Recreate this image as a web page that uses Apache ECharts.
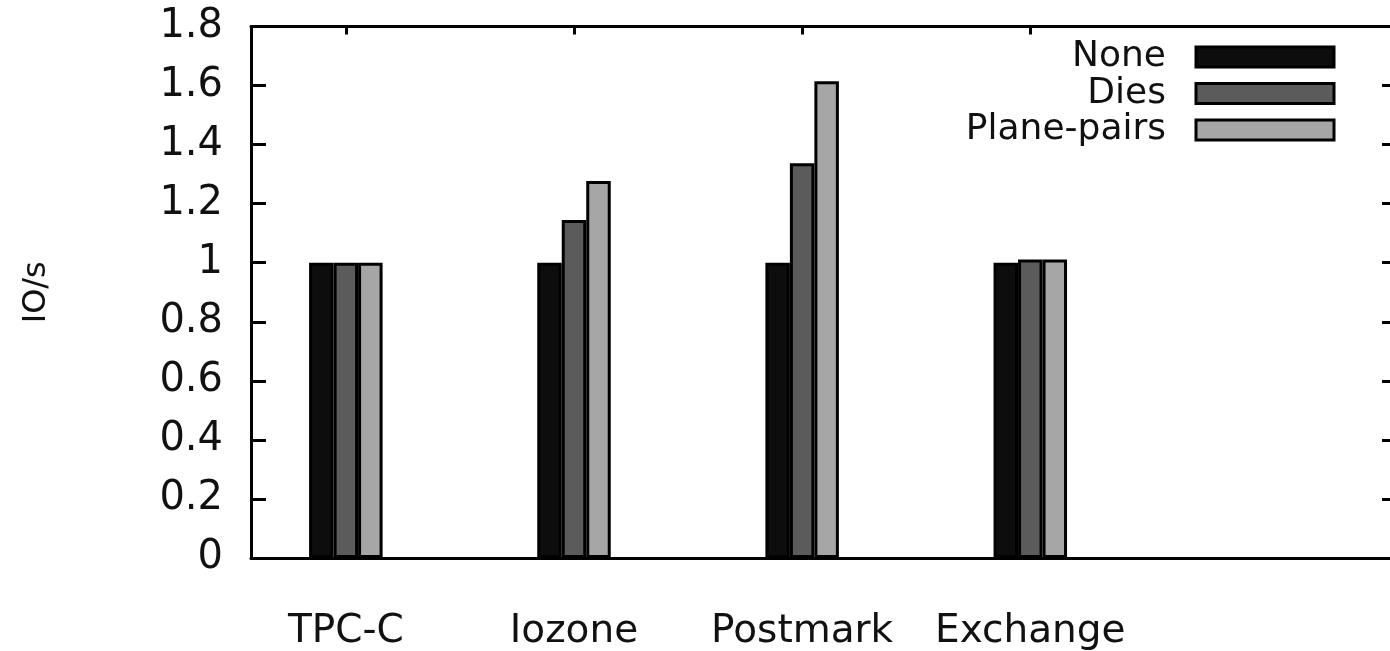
<!DOCTYPE html>
<html><head><meta charset="utf-8">
<script src="https://cdn.jsdelivr.net/npm/echarts@6/dist/echarts.min.js"></script>
<style>html,body{margin:0;padding:0;background:#fff}#c{width:1390px;height:651px}</style>
</head><body><div id="c"></div>
<script>
const categories = ['TPC-C', 'Iozone', 'Postmark', 'Exchange'];
const seriesNames = ['None', 'Dies', 'Plane-pairs'];
const noneValues = [1.0, 1.0, 1.0, 1.0];
const diesValues = [1.0, 1.145, 1.337, 1.011];
const planeValues = [1.0, 1.277, 1.615, 1.011];
const yAxisName = 'IO/s';

const FONT = 'DejaVu Sans';
const colors = ['#0d0d0d', '#5b5b5b', '#a6a6a6'];
const allValues = [noneValues, diesValues, planeValues];
const catIdx = categories.map((c, i) => i);
const xMin = -0.4157, xMax = 4.6073;

const chart = echarts.init(document.getElementById('c'), null, {renderer: 'canvas'});
const axisLine = {show: true, onZero: false, lineStyle: {color: '#000', width: 3}};
chart.setOption({
  animation: false,
  backgroundColor: '#fff',
  grid: {left: 251, top: 26.5, width: 1146, height: 531.5, containLabel: false, outerBoundsMode: 'none'},
  legend: {
    data: seriesNames,
    orient: 'vertical',
    align: 'right',
    right: 54.5,
    top: 39,
    padding: 0,
    itemGap: 0.5,
    itemWidth: 138,
    itemHeight: 20,
    icon: 'rect',
    itemStyle: {borderColor: '#000', borderWidth: 3},
    textStyle: {fontFamily: FONT, fontSize: 36, color: '#111', lineHeight: 36, padding: [0, 25, 0, 0]}
  },
  xAxis: [
    {type: 'value', position: 'bottom', min: xMin, max: xMax,
     axisLine: axisLine, splitLine: {show: false}, axisTick: {show: false},
     axisLabel: {customValues: catIdx, formatter: v => categories[Math.round(v)] || '',
                 fontFamily: FONT, fontSize: 39, color: '#111', margin: 54}},
    {type: 'value', position: 'top', min: xMin, max: xMax,
     axisLine: axisLine, splitLine: {show: false},
     axisTick: {show: true, inside: true, length: 8, customValues: catIdx, lineStyle: {color: '#000', width: 3}},
     axisLabel: {show: false}}
  ],
  yAxis: [
    {type: 'value', position: 'left', min: 0, max: 1.8, interval: 0.2,
     axisLine: axisLine, splitLine: {show: false},
     axisTick: {show: true, inside: true, length: 15, lineStyle: {color: '#000', width: 3}},
     axisLabel: {fontFamily: FONT, fontSize: 40, color: '#111', margin: 28,
                 formatter: v => String(Math.round(v * 10) / 10)},
     name: yAxisName, nameLocation: 'middle', nameGap: 198, nameRotate: 90,
     nameTextStyle: {fontFamily: FONT, fontSize: 32, color: '#111'}},
    {type: 'value', position: 'right', min: 0, max: 1.8, interval: 0.2,
     axisLine: axisLine, splitLine: {show: false},
     axisTick: {show: true, inside: true, length: 15, lineStyle: {color: '#000', width: 3}},
     axisLabel: {show: false}}
  ],
  series: seriesNames.map((name, s) => ({
    name: name,
    type: 'bar',
    xAxisIndex: 0,
    yAxisIndex: 0,
    barWidth: 24.5,
    barGap: '0%',
    data: allValues[s].map((v, i) => [catIdx[i], v]),
    itemStyle: {color: colors[s], borderColor: '#000', borderWidth: 3},
    emphasis: {disabled: true}
  }))
});
</script>
</body></html>
